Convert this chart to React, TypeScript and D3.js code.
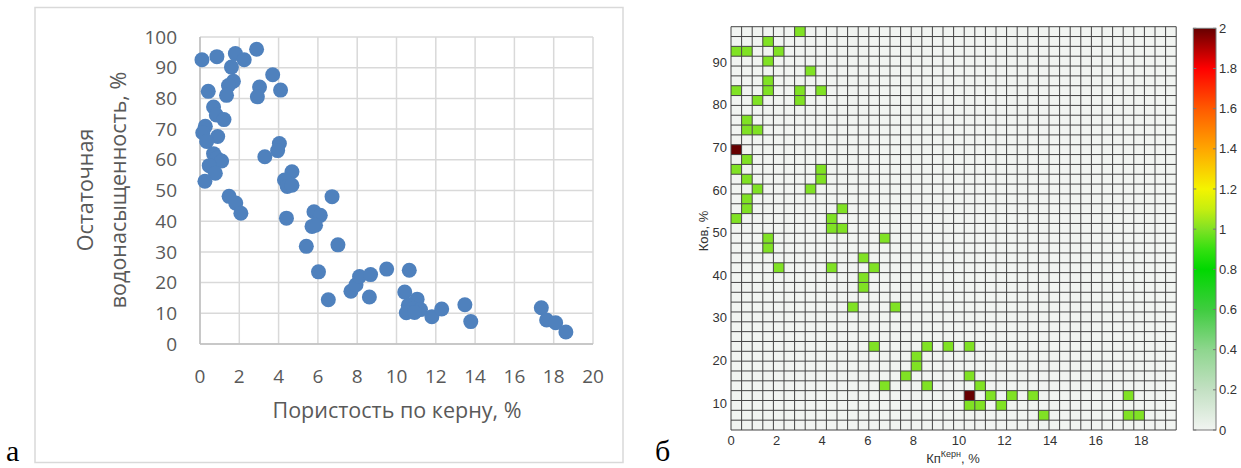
import React from 'react';
import * as d3 from 'd3';

// ---- panel "а": core porosity vs residual water saturation (scatter) ----
const poro = [
  0.1, 0.86, 1.8, 2.25, 2.88, 1.6, 3.7, 1.7, 1.45, 0.42, 1.35, 3.03, 2.92, 4.1,
  0.69, 0.83, 1.22, 0.27, 0.14, 0.9, 0.34, 4.04, 3.95, 3.3, 0.69, 0.86, 1.1, 0.47,
  0.78, 0.25, 4.68, 4.3, 4.44, 4.68, 1.48, 1.82, 2.08, 4.4, 6.72, 5.8, 6.12, 5.7,
  5.88, 5.41, 7.02, 6.03, 6.53, 7.68, 7.94, 8.12, 8.68, 8.62, 9.5, 10.65, 10.42,
  11.05, 10.6, 10.85, 11.22, 10.5, 10.92, 11.8, 12.3, 13.48, 13.78, 17.37, 17.64,
  18.1, 18.62,
];
const swr = [
  92.6, 93.6, 94.6, 92.6, 96.0, 90.2, 87.7, 85.6, 84.2, 82.3, 81.0, 83.7, 80.5, 82.7,
  77.2, 74.6, 73.1, 70.9, 68.8, 67.6, 66.0, 65.3, 63.0, 61.0, 62.0, 60.5, 59.6, 58.1,
  55.6, 53.0, 56.1, 53.4, 51.3, 51.7, 48.1, 45.9, 42.6, 41.0, 48.0, 43.1, 41.9, 38.3,
  38.7, 31.8, 32.3, 23.5, 14.4, 17.2, 19.3, 22.0, 22.6, 15.3, 24.4, 24.0, 16.9,
  14.6, 12.6, 11.5, 11.2, 10.2, 10.3, 8.9, 11.4, 12.8, 7.3, 11.8, 7.8, 6.9, 3.9,
];
const xTicksA = d3.range(0, 21, 2);
const yTicksA = d3.range(0, 101, 10);

// ---- panel "б": 2D histogram cells (Kp bin index, Kov bin index from bottom, count) ----
const cellCol = [
  6, 3, 0, 1, 4, 3, 7, 3, 0, 3, 6, 8, 2, 6, 1, 1, 2, 0, 1, 0, 8, 1, 8, 2, 7, 1, 1, 10,
  0, 9, 9, 10, 3, 14, 3, 12, 4, 9, 13, 12, 12, 11, 15, 13, 18, 20, 22, 17, 17, 16, 22,
  14, 18, 23, 22, 24, 26, 28, 37, 22, 23, 25, 29, 37, 38,
];
const cellRow = [
  40, 39, 38, 38, 38, 37, 36, 35, 34, 34, 34, 34, 33, 33, 31, 30, 30, 28, 27, 26, 26,
  25, 25, 24, 24, 23, 22, 22, 21, 21, 20, 20, 19, 19, 18, 17, 16, 16, 16, 15, 14, 12,
  12, 8, 8, 8, 8, 7, 6, 5, 5, 4, 4, 4, 3, 3, 3, 3, 3, 2, 2, 2, 1, 1, 1,
];
const cellCount = [
  1, 1, 1, 1, 1, 1, 1, 1, 1, 1, 1, 1, 1, 1, 1, 1, 1, 2, 1, 1, 1, 1, 1, 1, 1, 1, 1, 1,
  1, 1, 1, 1, 1, 1, 1, 1, 1, 1, 1, 1, 1, 1, 1, 1, 1, 1, 1, 1, 1, 1, 1, 1, 1, 1, 2, 1,
  1, 1, 1, 1, 1, 1, 1, 1, 1,
];
const nCols = 42;
const nRows = 41;
const kpMin = 0;
const kpMax = 19.53;
const kovMin = 3.66;
const kovMax = 98.36;
const xTicksB = d3.range(0, 19, 2);
const yTicksB = d3.range(10, 91, 10);
const cbTicks = d3.range(0, 11).map((i) => i * 0.2);
const cmapStops = [0, 0.2, 0.4, 0.6, 0.8, 0.9, 1.0, 1.1, 1.2, 1.4, 1.6, 1.8, 2.0];
const cmapColors = [
  '#f1f4f1', '#c3e0c3', '#8ed68e', '#3fcc3f', '#00d800', '#35e010', '#80e224',
  '#c6ee10', '#f4f400', '#ffa600', '#ff5a00', '#ff0000', '#660000',
];

const blue = '#4f81bd';
const grey = '#595959';

export default function App() {
  const W = 1241;
  const H = 468;

  // panel а scales
  const xA = d3.scaleLinear().domain([0, 20]).range([200, 593]);
  const yA = d3.scaleLinear().domain([0, 100]).range([344, 37]);

  // panel б scales
  const xB = d3.scaleLinear().domain([kpMin, kpMax]).range([731, 1176.2]);
  const yB = d3.scaleLinear().domain([kovMin, kovMax]).range([430, 26.7]);
  const binW = (kpMax - kpMin) / nCols;
  const binH = (kovMax - kovMin) / nRows;
  const cmap = d3.scaleLinear<string>().domain(cmapStops).range(cmapColors);
  const yCb = d3.scaleLinear().domain([0, 2]).range([430, 28.3]);
  const cbX0 = 1193.3;
  const cbX1 = 1216;

  const fA = '"Open Sans", "Liberation Sans", sans-serif';
  const fB = '"Liberation Sans", Arial, sans-serif';
  const fSerif = '"Liberation Serif", "Times New Roman", serif';

  return (
    <div style={{ position: 'absolute', left: 0, top: 0 }}>
      <svg width={W} height={H} style={{ display: 'block', background: '#fff' }}>
        <defs>
          <linearGradient id="cb" x1="0" y1="1" x2="0" y2="0">
            {cmapStops.map((s, i) => (
              <stop key={i} offset={s / 2} stopColor={cmapColors[i]} />
            ))}
          </linearGradient>
        </defs>

        {/* ---------- panel а ---------- */}
        <rect x={35} y={7.5} width={588} height={455} fill="none" stroke="#d9d9d9" strokeWidth={1.5} />
        {xTicksA.map((t) => (
          <line key={'gx' + t} x1={xA(t)} x2={xA(t)} y1={yA(0)} y2={yA(100)} stroke="#d9d9d9" strokeWidth={1.5} />
        ))}
        {yTicksA.map((t) => (
          <line key={'gy' + t} x1={xA(0)} x2={xA(20)} y1={yA(t)} y2={yA(t)} stroke="#d9d9d9" strokeWidth={1.5} />
        ))}
        <line x1={xA(0)} x2={xA(20)} y1={yA(0)} y2={yA(0)} stroke="#bfbfbf" strokeWidth={1.5} />
        <line x1={xA(0)} x2={xA(0)} y1={yA(0)} y2={yA(100)} stroke="#bfbfbf" strokeWidth={1.5} />
        {poro.map((p, i) => (
          <circle key={'pt' + i} cx={xA(p)} cy={yA(swr[i])} r={7.5} fill={blue} />
        ))}
        {xTicksA.map((t) => (
          <text key={'tx' + t} x={xA(t)} y={383} textAnchor="middle" fontFamily={fA} fontSize={19} fill={grey}>
            {t}
          </text>
        ))}
        {yTicksA.map((t) => (
          <text key={'ty' + t} x={177} y={yA(t)} dy="0.35em" textAnchor="end" fontFamily={fA} fontSize={19} fill={grey}>
            {t}
          </text>
        ))}
        <text x={397} y={418} textAnchor="middle" fontFamily={fA} fontSize={21.5} fill={grey}>
          Пористость по керну, %
        </text>
        <text transform="translate(93,190) rotate(-90)" textAnchor="middle" fontFamily={fA} fontSize={21.5} fill={grey}>
          Остаточная
        </text>
        <text transform="translate(126,190) rotate(-90)" textAnchor="middle" fontFamily={fA} fontSize={21.5} fill={grey}>
          водонасыщенность, %
        </text>
        <text x={6} y={461} fontFamily={fSerif} fontSize={30} fill="#000">
          а
        </text>

        {/* ---------- panel б ---------- */}
        <text x={655} y={461} fontFamily={fSerif} fontSize={30} fill="#000">
          б
        </text>
        <rect x={xB(kpMin)} y={yB(kovMax)} width={xB(kpMax) - xB(kpMin)} height={yB(kovMin) - yB(kovMax)} fill={cmap(0)} />
        {cellCol.map((c, i) => (
          <rect
            key={'c' + i}
            x={xB(kpMin + c * binW)}
            y={yB(kovMin + (cellRow[i] + 1) * binH)}
            width={xB(binW) - xB(0)}
            height={yB(kovMin) - yB(kovMin + binH)}
            fill={cmap(cellCount[i])}
          />
        ))}
        {d3.range(0, nCols + 1).map((k) => (
          <line key={'vl' + k} x1={xB(kpMin + k * binW)} x2={xB(kpMin + k * binW)} y1={yB(kovMin)} y2={yB(kovMax)} stroke="#444" strokeWidth={1} />
        ))}
        {d3.range(0, nRows + 1).map((k) => (
          <line key={'hl' + k} x1={xB(kpMin)} x2={xB(kpMax)} y1={yB(kovMin + k * binH)} y2={yB(kovMin + k * binH)} stroke="#444" strokeWidth={1} />
        ))}
        {xTicksB.map((t) => (
          <text key={'bx' + t} x={xB(t)} y={445} textAnchor="middle" fontFamily={fB} fontSize={13} fill="#333">
            {t}
          </text>
        ))}
        {yTicksB.map((t) => (
          <text key={'by' + t} x={727} y={yB(t)} dy="0.35em" textAnchor="end" fontFamily={fB} fontSize={13} fill="#333">
            {t}
          </text>
        ))}
        <text x={953} y={463} textAnchor="middle" fontFamily={fB} fontSize={13} fill="#333">
          Кп
          <tspan fontSize={9} dy={-6}>Керн</tspan>
          <tspan dy={6}>, %</tspan>
        </text>
        <text transform="translate(708,231) rotate(-90)" textAnchor="middle" fontFamily={fB} fontSize={13} fill="#333">
          Ков, %
        </text>

        {/* colorbar */}
        <rect x={cbX0} y={yCb(2)} width={cbX1 - cbX0} height={yCb(0) - yCb(2)} fill="url(#cb)" stroke="#777" strokeWidth={1} />
        {cbTicks.map((t, i) => (
          <g key={'cb' + i}>
            <line x1={cbX0} x2={cbX0 + 3} y1={yCb(t)} y2={yCb(t)} stroke="#777" />
            <line x1={cbX1 - 3} x2={cbX1} y1={yCb(t)} y2={yCb(t)} stroke="#777" />
            <text x={cbX1 + 3} y={yCb(t)} dy="0.35em" fontFamily={fB} fontSize={13} fill="#333">
              {String(+t.toFixed(1))}
            </text>
          </g>
        ))}
      </svg>
    </div>
  );
}
